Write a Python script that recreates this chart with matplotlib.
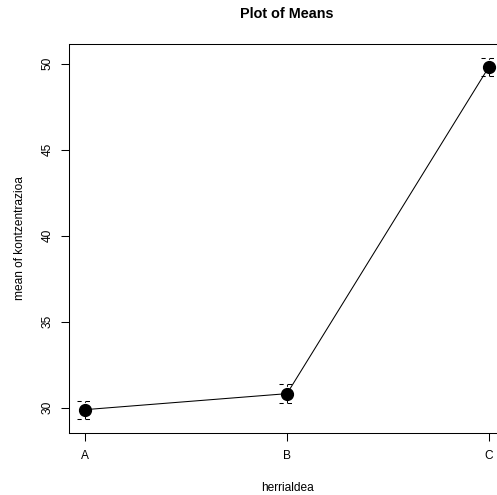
import matplotlib
matplotlib.use("Agg")
import matplotlib.pyplot as plt
import numpy as np

plt.rcParams['font.family'] = ['Liberation Sans', 'DejaVu Sans']

groups = ["A", "B", "C"]
means = [29.88, 30.81, 49.80]
se = [0.52, 0.55, 0.50]
yticks = [30, 35, 40, 45, 50]

x = np.arange(1, len(groups) + 1)
m = np.array(means)
e = np.array(se)

fig = plt.figure(figsize=(4.97, 4.95), dpi=100)
ax = fig.add_axes([69 / 497, 62 / 495, 436 / 497, 389 / 495])

# dashed error bars (vertical + caps)
dash = (0, (4, 4))
ax.vlines(x, m - e, m + e, colors="black", linewidth=0.75, linestyles=dash)
ax.hlines(m + e, x - 0.04, x + 0.04, colors="black", linewidth=0.75, linestyles=dash)
ax.hlines(m - e, x - 0.04, x + 0.04, colors="black", linewidth=0.75, linestyles=dash)

ax.plot(x, m, color="black", linewidth=0.75, marker="o", markersize=8.5)

# R style axis ranges (4% extension)
lo, hi = (m - e).min(), (m + e).max()
r = hi - lo
ax.set_ylim(lo - 0.04 * r, hi + 0.04 * r)
ax.set_xlim(1 - 0.04 * 2, len(groups) + 0.04 * 2)

ax.set_xticks(x)
ax.set_xticklabels(groups)
ax.set_yticks(yticks)
ax.set_yticklabels([str(t) for t in yticks], rotation=90, va="center")

ax.tick_params(axis="both", direction="out", length=5.5, width=0.75,
               labelsize=8.6, colors="black")
ax.tick_params(axis="x", pad=7)
ax.tick_params(axis="y", pad=5.5)
for s in ax.spines.values():
    s.set_linewidth(0.75)

ax.set_xlabel("herrialdea", fontsize=8.6, labelpad=14)
ax.set_ylabel("mean of kontzentrazioa", fontsize=8.6, labelpad=11.5)
ax.set_title("Plot of Means", fontsize=10.4, fontweight="bold", pad=18.7)

fig.savefig("out.png", dpi=100)
